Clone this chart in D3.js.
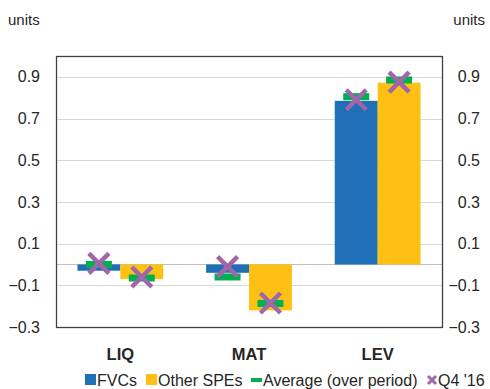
<!DOCTYPE html>
<html>
<head>
<meta charset="utf-8" />
<style>
body { margin: 0; background: white; }
svg { display: block; font-family: "Liberation Sans", Arial, sans-serif; }
.grid line { stroke: #d9d9d9; stroke-width: 1.5; shape-rendering: crispEdges; }
</style>
<script src="https://cdnjs.cloudflare.com/ajax/libs/d3/7.8.5/d3.min.js"></script>
</head>
<body>
<div id="chart"></div>
<script>
// data
var categories = ["LIQ", "MAT", "LEV"];
var series = ["FVCs", "Other SPEs"];
var fvcs = [-0.03, -0.04, 0.785];
var otherSpes = [-0.07, -0.22, 0.872];
var avgFvcs = [0.0, -0.06, 0.805];
var avgOther = [-0.065, -0.187, 0.885];
var q4Fvcs = [0.005, -0.01, 0.79];
var q4Other = [-0.06, -0.185, 0.875];
var yTicks = [-0.3, -0.1, 0.1, 0.3, 0.5, 0.7, 0.9];

var colors = { "FVCs": "#1f6fb7", "Other SPEs": "#fec013" };
var avgColor = "#00b050", q4Color = "#a066aa";

var width = 490, height = 389;
var margin = { top: 56, right: 48, bottom: 62, left: 56 };
var plotW = width - margin.left - margin.right;
var plotH = height - margin.top - margin.bottom;

var svg = d3.select("#chart").append("svg")
  .attr("width", width)
  .attr("height", height);

var x0 = d3.scaleBand().domain(categories).range([0, plotW])
  .paddingInner(1 / 3).paddingOuter(1 / 6);
var x1 = d3.scaleBand().domain(series).range([0, x0.bandwidth()]);
var y = d3.scaleLinear().domain([-0.3, 1.0]).range([plotH, 0]);

var g = svg.append("g")
  .attr("transform", "translate(" + margin.left + "," + margin.top + ")");

// gridlines
g.append("g").attr("class", "grid")
  .selectAll("line").data(yTicks.concat([0]))
  .enter().append("line")
  .attr("x1", 0).attr("x2", plotW)
  .attr("y1", function(d) { return Math.round(y(d)) + 0.5; })
  .attr("y2", function(d) { return Math.round(y(d)) + 0.5; })
  .style("stroke", function(d) { return d === 0 ? "#bfbfbf" : null; });

// bars
var rows = categories.map(function(c, i) {
  return [
    { cat: c, s: "FVCs", v: fvcs[i], avg: avgFvcs[i], q4: q4Fvcs[i] },
    { cat: c, s: "Other SPEs", v: otherSpes[i], avg: avgOther[i], q4: q4Other[i] }
  ];
});
var flat = [].concat.apply([], rows);

g.selectAll(".bar").data(flat).enter().append("rect")
  .attr("class", "bar")
  .attr("x", function(d) { return x0(d.cat) + x1(d.s); })
  .attr("width", x1.bandwidth())
  .attr("y", function(d) { return y(Math.max(0, d.v)); })
  .attr("height", function(d) { return Math.abs(y(d.v) - y(0)); })
  .attr("fill", function(d) { return colors[d.s]; });

// average markers
var dashW = 26, dashH = 7;
g.selectAll(".avg").data(flat).enter().append("rect")
  .attr("class", "avg")
  .attr("x", function(d) { return x0(d.cat) + x1(d.s) + x1.bandwidth() / 2 - dashW / 2; })
  .attr("y", function(d) { return y(d.avg) - dashH / 2; })
  .attr("width", dashW).attr("height", dashH)
  .attr("fill", avgColor);

// Q4 '16 crosses
var cs = 10;
g.selectAll(".q4").data(flat).enter().append("path")
  .attr("class", "q4")
  .attr("d", function(d) {
    var cx = x0(d.cat) + x1(d.s) + x1.bandwidth() / 2, cy = y(d.q4);
    return "M" + (cx - cs) + "," + (cy - cs) + "L" + (cx + cs) + "," + (cy + cs) +
      "M" + (cx - cs) + "," + (cy + cs) + "L" + (cx + cs) + "," + (cy - cs);
  })
  .attr("stroke", q4Color).attr("stroke-width", 4.5).attr("fill", "none");

// frame
g.append("rect")
  .attr("x", 0.5).attr("y", 0.5)
  .attr("width", plotW).attr("height", plotH)
  .attr("fill", "none").attr("stroke", "#404040").attr("stroke-width", 1.3);

// axes labels both sides
g.selectAll(".yl").data(yTicks).enter().append("text")
  .attr("x", -16).attr("y", function(d) { return y(d); })
  .attr("dy", "0.35em").attr("text-anchor", "end")
  .attr("font-size", "16px").attr("fill", "#262626")
  .text(function(d) { return d3.format(".1f")(d); });

g.selectAll(".yr").data(yTicks).enter().append("text")
  .attr("x", plotW + 38).attr("y", function(d) { return y(d); })
  .attr("dy", "0.35em").attr("text-anchor", "end")
  .attr("font-size", "16px").attr("fill", "#262626")
  .text(function(d) { return d3.format(".1f")(d); });

svg.append("text").attr("x", 8).attr("y", 25)
  .attr("font-size", "15px").attr("fill", "#262626").text("units");
svg.append("text").attr("x", 485).attr("y", 25).attr("text-anchor", "end")
  .attr("font-size", "15px").attr("fill", "#262626").text("units");

// category labels
g.selectAll(".cat").data(categories).enter().append("text")
  .attr("x", function(d) { return x0(d) + x0.bandwidth() / 2; })
  .attr("y", plotH + 33)
  .attr("text-anchor", "middle")
  .attr("font-size", "16.5px").attr("font-weight", "bold").attr("fill", "#262626")
  .text(function(d) { return d; });

// legend
var leg = svg.append("g").attr("font-size", "16px").attr("fill", "#262626");
var ly = 386;
leg.append("rect").attr("x", 85).attr("y", ly - 12).attr("width", 11).attr("height", 11).attr("fill", colors["FVCs"]);
leg.append("text").attr("x", 97).attr("y", ly).text("FVCs");
leg.append("rect").attr("x", 146).attr("y", ly - 12).attr("width", 11).attr("height", 11).attr("fill", colors["Other SPEs"]);
leg.append("text").attr("x", 158).attr("y", ly).text("Other SPEs");
leg.append("rect").attr("x", 251).attr("y", ly - 8).attr("width", 11).attr("height", 4).attr("fill", avgColor);
leg.append("text").attr("x", 263).attr("y", ly).text("Average (over period)");
leg.append("path")
  .attr("d", "M428," + (ly - 10) + "L436," + (ly - 2) + "M428," + (ly - 2) + "L436," + (ly - 10))
  .attr("stroke", q4Color).attr("stroke-width", 3).attr("fill", "none");
leg.append("text").attr("x", 438).attr("y", ly).text("Q4 '16");
</script>
</body>
</html>
